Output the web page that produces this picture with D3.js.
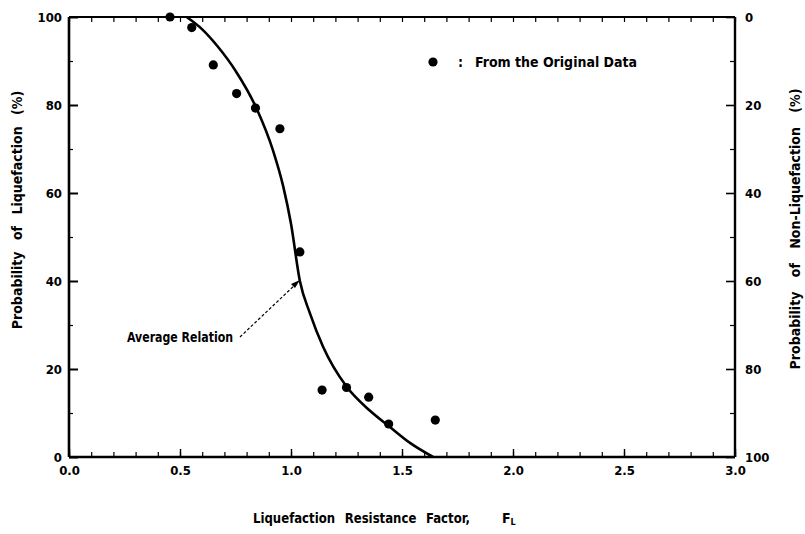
<!DOCTYPE html>
<html>
<head>
<meta charset="utf-8">
<script src="https://cdn.jsdelivr.net/npm/d3@7"></script>
<style>
  body { margin: 0; background: #fff; }
  svg text { font-family: "Liberation Sans Narrow", "DejaVu Sans Condensed", "DejaVu Sans", sans-serif; font-weight: bold; fill: #000; }
  .axis path, .axis line { stroke: #000; }
  .axis text { font-size: 13px; }
</style>
</head>
<body>
<svg id="chart" width="805" height="534"></svg>
<script>
// observed points, F_L vs probability of liquefaction (%)
const obsFL   = [0.455, 0.553, 0.65, 0.755, 0.84, 0.95, 1.04, 1.14, 1.25, 1.35, 1.44, 1.65];
const obsProb = [100, 97.6, 89.1, 82.6, 79.3, 74.6, 46.6, 15.2, 15.8, 13.6, 7.5, 8.4];

// average relation curve
const curveFL   = [0.53, 0.60, 0.67, 0.75, 0.845, 0.92, 0.965, 1.00, 1.04, 1.085, 1.145, 1.25, 1.356, 1.446, 1.536, 1.64];
const curveProb = [100, 97.2, 93.3, 87.8, 79.2, 69.5, 61.5, 53, 40, 32.7, 25, 16, 10.5, 6.8, 3.2, 0];

const xMajor = [0, 0.5, 1.0, 1.5, 2.0, 2.5, 3.0];
const xMinor = d3.range(0, 31).map(d => d / 10);
const yMajor = [0, 20, 40, 60, 80, 100];
const yMinor = [10, 30, 50, 70, 90];

const svg = d3.select("#chart");

const x = d3.scaleLinear().domain([0, 3]).range([69, 735]);
const y = d3.scaleLinear().domain([0, 100]).range([457, 17]);
const yR = d3.scaleLinear().domain([0, 100]).range([17, 457]); // non-liquefaction

// frame
svg.append("line").attr("x1", x(0)).attr("x2", x(3)).attr("y1", y(100)).attr("y2", y(100))
  .attr("stroke", "#000").attr("stroke-width", 1.8);
svg.append("line").attr("x1", x(0)).attr("x2", x(3)).attr("y1", y(0)).attr("y2", y(0))
  .attr("stroke", "#000").attr("stroke-width", 2.6);
svg.append("line").attr("x1", x(0)).attr("x2", x(0)).attr("y1", y(0)).attr("y2", y(100))
  .attr("stroke", "#000").attr("stroke-width", 2.6);
svg.append("line").attr("x1", x(3)).attr("x2", x(3)).attr("y1", y(0)).attr("y2", y(100))
  .attr("stroke", "#000").attr("stroke-width", 2.4);

// bottom axis: labels + inward ticks
const bottom = svg.append("g").attr("class", "axis").attr("transform", `translate(0,${y(0)})`)
  .call(d3.axisBottom(x).tickValues(xMajor).tickFormat(d3.format(".1f")).tickSizeInner(-8).tickSizeOuter(0).tickPadding(9));
bottom.select(".domain").remove();
bottom.selectAll("line").attr("stroke-width", 1.4);
svg.append("g").attr("class", "axis").attr("transform", `translate(0,${y(0)})`)
  .call(d3.axisBottom(x).tickValues(xMinor).tickFormat("").tickSizeInner(-5).tickSizeOuter(0))
  .call(g => g.select(".domain").remove())
  .selectAll("line").attr("stroke-width", 1.2);

// top axis ticks
svg.append("g").attr("class", "axis").attr("transform", `translate(0,${y(100)})`)
  .call(d3.axisTop(x).tickValues(xMinor).tickFormat("").tickSizeInner(-5).tickSizeOuter(0))
  .call(g => g.select(".domain").remove())
  .selectAll("line").attr("stroke-width", 1.2);

// left axis
const left = svg.append("g").attr("class", "axis").attr("transform", `translate(${x(0)},0)`)
  .call(d3.axisLeft(y).tickValues(yMajor).tickSizeInner(-9).tickSizeOuter(0).tickPadding(7));
left.select(".domain").remove();
left.selectAll("line").attr("stroke-width", 2);
svg.append("g").attr("class", "axis").attr("transform", `translate(${x(0)},0)`)
  .call(d3.axisLeft(y).tickValues(yMinor).tickFormat("").tickSizeInner(-4).tickSizeOuter(0))
  .call(g => g.select(".domain").remove())
  .selectAll("line").attr("stroke-width", 1.2);

// right axis (non-liquefaction)
const right = svg.append("g").attr("class", "axis").attr("transform", `translate(${x(3)},0)`)
  .call(d3.axisRight(yR).tickValues(yMajor).tickSizeInner(-9).tickSizeOuter(0).tickPadding(10));
right.select(".domain").remove();
right.selectAll("line").attr("stroke-width", 1.6);
svg.append("g").attr("class", "axis").attr("transform", `translate(${x(3)},0)`)
  .call(d3.axisRight(yR).tickValues(yMinor).tickFormat("").tickSizeInner(-5).tickSizeOuter(0))
  .call(g => g.select(".domain").remove())
  .selectAll("line").attr("stroke-width", 1.2);

// average relation curve
const curveData = curveFL.map((f, i) => [f, curveProb[i]]);
svg.append("path")
  .datum(curveData)
  .attr("fill", "none")
  .attr("stroke", "#000")
  .attr("stroke-width", 2.6)
  .attr("d", d3.line().x(d => x(d[0])).y(d => y(d[1])).curve(d3.curveMonotoneX));

// observed points
svg.append("g").selectAll("circle")
  .data(obsFL.map((f, i) => [f, obsProb[i]]))
  .join("circle")
  .attr("cx", d => x(d[0]))
  .attr("cy", d => y(d[1]))
  .attr("r", 4.6)
  .attr("fill", "#000");

// legend
svg.append("circle").attr("cx", 433).attr("cy", 62).attr("r", 4.6).attr("fill", "#000");
svg.append("text").attr("x", 458).attr("y", 67).attr("font-size", 14).text(":");
svg.append("text").attr("x", 475).attr("y", 67).attr("font-size", 14)
  .attr("textLength", 162).attr("lengthAdjust", "spacingAndGlyphs").text("From the Original Data");

// annotation
svg.append("text").attr("x", 127).attr("y", 342).attr("font-size", 14)
  .attr("textLength", 106).attr("lengthAdjust", "spacingAndGlyphs").text("Average Relation");
svg.append("line").attr("x1", 240).attr("y1", 337).attr("x2", 297).attr("y2", 283)
  .attr("stroke", "#000").attr("stroke-width", 1.2).attr("stroke-dasharray", "3,2");
svg.append("path").attr("d", "M300,280 L291,284 L295,288 Z").attr("fill", "#000");

// axis titles
svg.append("text").attr("x", 253).attr("y", 523).attr("font-size", 14).attr("word-spacing", 6)
  .attr("textLength", 217).attr("lengthAdjust", "spacingAndGlyphs").text("Liquefaction Resistance Factor,");
svg.append("text").attr("x", 502).attr("y", 523).attr("font-size", 14)
  .text("F").append("tspan").attr("font-size", 9).attr("dy", 2).text("L");

svg.append("text").attr("transform", "translate(22,210) rotate(-90)")
  .attr("text-anchor", "middle").attr("font-size", 14).attr("word-spacing", 7)
  .text("Probability of Liquefaction (%)");
svg.append("text").attr("transform", "translate(800,229) rotate(-90)")
  .attr("text-anchor", "middle").attr("font-size", 14).attr("word-spacing", 10)
  .text("Probability of Non-Liquefaction (%)");
</script>
</body>
</html>
